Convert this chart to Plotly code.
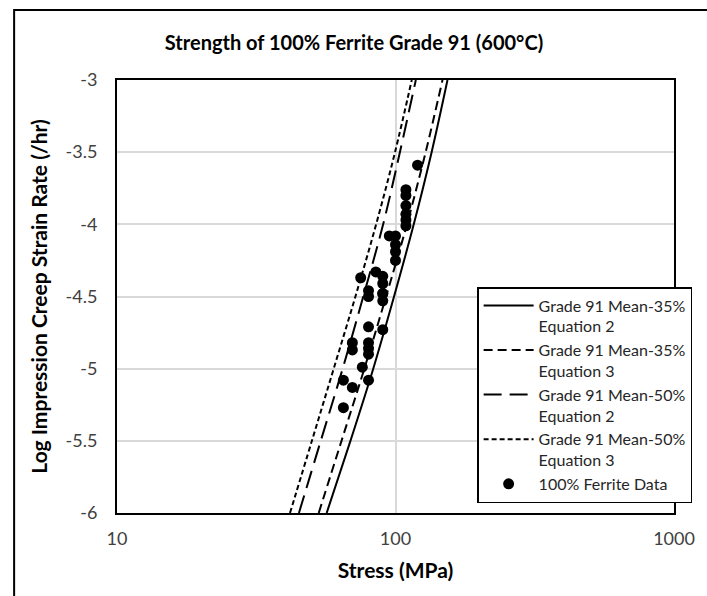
import plotly.graph_objects as go

# Log creep strain-rate levels at which the model curves were read
curve_rate = [-6.0, -5.5, -5.0, -4.5, -4.0, -3.5, -3.0]

# Stress (MPa) of each model curve at those levels
mean35_eq2 = [56.6, 68.9, 83.2, 98.8, 116.3, 134.8, 153.7]
mean35_eq3 = [53.0, 64.0, 77.3, 92.5, 109.9, 128.3, 147.5]
mean50_eq2 = [45.0, 53.9, 64.6, 76.6, 90.3, 103.7, 118.3]
mean50_eq3 = [41.8, 50.1, 60.0, 71.8, 85.2, 99.6, 114.4]

# 100% ferrite measured data
ferrite_stress = [120, 109, 109, 109, 109, 109, 109, 95, 100, 100, 100, 100,
                  75, 85, 90, 90, 90, 80, 80, 90, 90, 80, 90, 70, 70,
                  80, 80, 80, 76, 65, 80, 70, 65]
ferrite_rate = [-3.59, -3.76, -3.80, -3.87, -3.93, -3.97, -4.01, -4.08, -4.08,
                -4.14, -4.19, -4.25, -4.37, -4.33, -4.36, -4.41, -4.48, -4.46,
                -4.50, -4.53, -4.73, -4.71, -4.48, -4.82, -4.87, -4.82, -4.86,
                -4.90, -4.99, -5.08, -5.08, -5.13, -5.27]

x_tick_vals = [10, 100, 1000]
x_tick_text = ["10", "100", "1000"]
y_tick_vals = [-6, -5.5, -5, -4.5, -4, -3.5, -3]
y_tick_text = ["-6", "-5.5", "-5", "-4.5", "-4", "-3.5", "-3"]

FONT = "Lato"

fig = go.Figure()
series = [
    ("Grade 91 Mean-35%<br>Equation 2", mean35_eq2, "solid"),
    ("Grade 91 Mean-35%<br>Equation 3", mean35_eq3, "9px,5px"),
    ("Grade 91 Mean-50%<br>Equation 2", mean50_eq2, "18px,8px"),
    ("Grade 91 Mean-50%<br>Equation 3", mean50_eq3, "5px,3px"),
]
for name, xs, dash in series:
    fig.add_trace(go.Scatter(
        x=xs, y=curve_rate, mode="lines", name=name,
        line=dict(color="black", width=2, dash=dash, shape="spline"),
    ))
fig.add_trace(go.Scatter(
    x=ferrite_stress, y=ferrite_rate, mode="markers", name="100% Ferrite Data",
    marker=dict(color="black", size=11),
))

fig.update_layout(
    width=707, height=596,
    margin=dict(l=117, r=27, t=80, b=83),
    paper_bgcolor="white", plot_bgcolor="white",
    font=dict(family=FONT, color="#404040"),
    title=dict(text="<b>Strength of 100% Ferrite Grade 91 (600°C)</b>",
               x=354 / 707, xref="container", xanchor="center",
               y=1 - 43 / 596, yref="container", yanchor="middle",
               font=dict(family=FONT, size=20, color="black")),
    showlegend=True,
    legend=dict(x=(481 - 117) / 563, y=(513 - 287) / 433, xanchor="left", yanchor="top",
                bgcolor="white", bordercolor="black", borderwidth=1.5,
                font=dict(family=FONT, size=16, color="#262626"),
                valign="top", tracegroupgap=0, itemwidth=50),
    shapes=[dict(type="path", xref="paper", yref="paper",
                 path="M -0.1847,-0.25 L -0.1847,1.1617 L 1.1,1.1617",
                 line=dict(color="black", width=2))],
)
fig.update_xaxes(
    type="log", range=[1, 3], tickvals=x_tick_vals, ticktext=x_tick_text,
    showgrid=True, gridcolor="#d9d9d9", gridwidth=1.5,
    showline=True, linecolor="black", linewidth=2, mirror=True,
    ticks="", ticklabelstandoff=8,
    tickfont=dict(family=FONT, size=18, color="#404040"),
    title=dict(text="<b>Stress (MPa)</b>", standoff=16,
               font=dict(family=FONT, size=21, color="black")),
    zeroline=False,
)
fig.update_yaxes(
    range=[-6, -3], tickvals=y_tick_vals, ticktext=y_tick_text,
    showgrid=True, gridcolor="#d9d9d9", gridwidth=1.5,
    showline=True, linecolor="black", linewidth=2, mirror=True,
    ticks="", ticklabelstandoff=14,
    tickfont=dict(family=FONT, size=18, color="#404040"),
    title=dict(text="<b>Log Impression Creep Strain Rate (/hr)</b>", standoff=12,
               font=dict(family=FONT, size=21, color="black")),
    zeroline=False,
)

fig.write_html("out.html")
